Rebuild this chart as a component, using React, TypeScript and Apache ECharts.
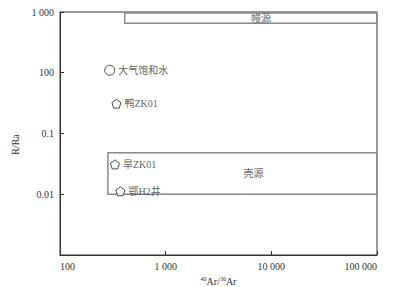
import React, { useEffect, useRef } from "react";
import * as echarts from "echarts";

// Tick values (axis positions) and the labels printed in the reference
const yTickValues = [1000, 100, 10, 1, 0.1];
const yTickLabels = ["1 000", "100", "0.1", "0.01", ""];
const xTickValues = [100, 1000, 10000, 100000];
const xTickLabels = ["100", "1 000", "10 000", "100 000"];

// Samples: [40Ar/36Ar, R/Ra position]
const sampleNames = ["大气饱和水", "鸭ZK01", "旱ZK01", "鄂H2井"];
const sampleX = [295.5, 342, 331, 373];
const sampleY = [110, 31, 3.1, 1.12];
const sampleSymbol = ["circle", "pentagon", "pentagon", "pentagon"];

// Source regions: [name, x0, x1, y0, y1]
const regionNames = ["幔源", "壳源"];
const regionX0 = [410, 284];
const regionX1 = [100000, 100000];
const regionY0 = [960, 4.83];
const regionY1 = [650, 1.0];

const PENTAGON =
  "path://M0,-1L0.951,-0.309L0.588,0.809L-0.588,0.809L-0.951,-0.309Z";
const FONT = "'Liberation Serif', 'Noto Sans CJK SC', serif";

export default function App() {
  const ref = useRef<HTMLDivElement>(null);
  useEffect(() => {
    if (!ref.current) return;
    const chart = echarts.init(ref.current, null, { renderer: "svg" });
    const fmt = (list: number[], labels: string[]) => (v: number) => {
      for (let i = 0; i < list.length; i++) {
        if (Math.abs(Math.log10(v) - Math.log10(list[i])) < 1e-6) return labels[i];
      }
      return "";
    };
    const series: any[] = sampleNames.map((n, i) => ({
      type: "scatter",
      name: n,
      symbol: sampleSymbol[i] === "circle" ? "circle" : PENTAGON,
      symbolSize: sampleSymbol[i] === "circle" ? 10 : 9,
      itemStyle: { color: "#fff", borderColor: "#222", borderWidth: 1 },
      label: {
        show: true,
        position: "right",
        distance: 3,
        formatter: n,
        fontFamily: FONT,
        fontSize: 10,
        color: "#333",
      },
      data: [[sampleX[i], sampleY[i]]],
      z: 5,
    }));
    series.push({
      type: "scatter",
      data: [],
      markArea: {
        silent: true,
        itemStyle: {
          color: "rgba(0,0,0,0)",
          borderColor: "#8a8a8a",
          borderWidth: 1.5,
        },
        label: {
          show: true,
          position: "inside",
          fontFamily: FONT,
          fontSize: 10,
          color: "#666",
        },
        data: regionNames.map((n, i) => [
          {
            name: n,
            coord: [regionX0[i], regionY0[i]],
            label: { offset: [i === 0 ? 10 : 11, 0] },
          },
          { coord: [regionX1[i], regionY1[i]] },
        ]),
      },
    });
    chart.setOption({
      animation: false,
      grid: {
        left: 60,
        right: 41,
        top: 12,
        bottom: 32,
        outerBoundsMode: "none",
        containLabel: false,
        show: true,
        borderColor: "#3a3030",
        borderWidth: 1,
      },
      xAxis: {
        type: "log",
        min: 100,
        max: 100000,
        logBase: 10,
        axisLine: { lineStyle: { color: "#3a3030" } },
        axisTick: { inside: true, length: 4, lineStyle: { color: "#3a3030" } },
        splitLine: { show: false },
        minorTick: { show: false },
        axisLabel: {
          formatter: fmt(xTickValues, xTickLabels),
          fontFamily: FONT,
          fontSize: 10,
          color: "#333",
          margin: 6,
          alignMinLabel: "left",
          alignMaxLabel: "right",
        },
        name: "{sup|40}{n|Ar/}{sup|36}{n|Ar}",
        nameLocation: "middle",
        nameGap: 17,
        nameTextStyle: {
          fontFamily: FONT,
          color: "#333",
          rich: {
            n: { fontSize: 10, fontFamily: FONT, color: "#333", lineHeight: 12 },
            sup: {
              fontSize: 6,
              fontFamily: FONT,
              color: "#333",
              verticalAlign: "top",
              lineHeight: 12,
              padding: [0, 0, 5, 0],
            },
          },
        },
      },
      yAxis: {
        type: "log",
        min: 0.1,
        max: 1000,
        logBase: 10,
        axisLine: { lineStyle: { color: "#3a3030" } },
        axisTick: { inside: true, length: 4, lineStyle: { color: "#3a3030" } },
        splitLine: { show: false },
        minorTick: { show: false },
        axisLabel: {
          formatter: fmt(yTickValues, yTickLabels),
          fontFamily: FONT,
          fontSize: 10,
          color: "#333",
          margin: 6,
        },
        name: "R/Ra",
        nameLocation: "middle",
        nameGap: 27,
        nameTextStyle: { fontFamily: FONT, fontSize: 10, color: "#333", padding: [0, 22, 0, 0] },
      },
      series,
    });
    return () => chart.dispose();
  }, []);
  return (
    <div
      ref={ref}
      style={{ position: "fixed", left: 0, top: 0, width: 418, height: 287, background: "#fff" }}
    />
  );
}
